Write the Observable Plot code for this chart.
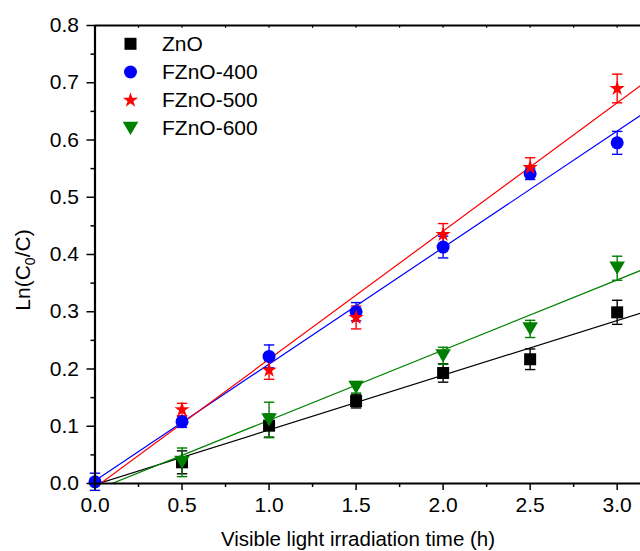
<!DOCTYPE html>
<html><head><meta charset="utf-8">
<script src="https://cdn.jsdelivr.net/npm/d3@7"></script>
<script src="https://cdn.jsdelivr.net/npm/@observablehq/plot@0.6"></script>
<style>
body{margin:0;background:#fff;}
#chart{position:relative;width:640px;height:551px;overflow:hidden;background:#fff;}
</style>
</head><body><div id="chart"></div>
<script>
// ---- data ----
const times = [0, 0.5, 1.0, 1.5, 2.0, 2.5, 3.0];
const seriesNames = ["ZnO", "FZnO-400", "FZnO-500", "FZnO-600"];
const seriesColors = ["#000000", "#0000ff", "#ff0000", "#008000"];
// null = point hidden under the axis in the reference
const valZnO     = [null,  0.037, 0.101, 0.144, 0.193, 0.217, 0.299];
const errZnO     = [null,  0.020, 0.020, 0.012, 0.016, 0.018, 0.021];
const valF400    = [0.003, 0.108, 0.222, 0.300, 0.413, 0.541, 0.595];
const errF400    = [0.015, 0.010, 0.020, 0.016, 0.019, 0.010, 0.020];
const valF500    = [null,  0.129, 0.198, 0.290, 0.435, 0.552, 0.690];
const errF500    = [null,  0.011, 0.016, 0.020, 0.019, 0.017, 0.025];
const valF600    = [null,  0.037, 0.111, 0.168, 0.223, 0.270, 0.376];
const errF600    = [null,  0.025, 0.031, 0.010, 0.015, 0.015, 0.021];
// linear fit lines: values at x = 0 and at right edge
const fitX       = [0, 3.134];
const fitZnO     = [-0.002, 0.2975];
const fitF400    = [0.005, 0.643];
const fitF500    = [-0.007, 0.695];
const fitF600    = [-0.012, 0.372];
// axis ticks
const xMajor = [0, 0.5, 1.0, 1.5, 2.0, 2.5, 3.0];
const xMinor = [0.25, 0.75, 1.25, 1.75, 2.25, 2.75];
const yMajor = [0, 0.1, 0.2, 0.3, 0.4, 0.5, 0.6, 0.7, 0.8];
const yMinor = [0.05, 0.15, 0.25, 0.35, 0.45, 0.55, 0.65, 0.75];

// ---- build tables ----
const vals = [valZnO, valF400, valF500, valF600];
const errs = [errZnO, errF400, errF500, errF600];
const fits = [fitZnO, fitF400, fitF500, fitF600];
const points = [];
seriesNames.forEach((s, i) => times.forEach((t, j) => {
  const v = vals[i][j];
  if (v == null) return;
  points.push({series: s, x: t, y: v, lo: v - errs[i][j], hi: v + errs[i][j]});
}));
const fitRows = [];
seriesNames.forEach((s, i) => fitX.forEach((x, j) => fitRows.push({series: s, x, y: fits[i][j]})));

// ---- symbols ----
const symSquare = {draw(c, size){ const r = Math.sqrt(size/Math.PI); c.rect(-r, -r, 2*r, 2*r); }};
const symCircle = {draw(c, size){ const r = Math.sqrt(size/Math.PI); c.moveTo(r,0); c.arc(0,0,r,0,2*Math.PI); }};
const symStar = d3.symbolStar;
const symTriDown = {draw(c, size){ const r = Math.sqrt(size/Math.PI);
  c.moveTo(-r, -0.85*r); c.lineTo(r, -0.85*r); c.lineTo(0, 0.85*r); c.closePath(); }};
const symbols = [symSquare, symCircle, symStar, symTriDown];
const sizes = [6.0, 6.5, 4.8, 7.8];
const cap = {draw(c, size){ const r = Math.sqrt(size/Math.PI); c.moveTo(-r,0); c.lineTo(r,0); }};

const marks = [];
// fit lines
seriesNames.forEach((s, i) => {
  marks.push(Plot.line(fitRows.filter(d => d.series === s), {x: "x", y: "y", stroke: seriesColors[i], strokeWidth: 1.2, clip: true}));
});
// error bars + points
seriesNames.forEach((s, i) => {
  const data = points.filter(d => d.series === s);
  marks.push(Plot.ruleX(data, {x: "x", y1: "lo", y2: "hi", stroke: seriesColors[i], strokeWidth: 1.4}));
  marks.push(Plot.dot(data, {x: "x", y: "lo", symbol: cap, r: 5.2, stroke: seriesColors[i], strokeWidth: 1.4, fill: "none"}));
  marks.push(Plot.dot(data, {x: "x", y: "hi", symbol: cap, r: 5.2, stroke: seriesColors[i], strokeWidth: 1.4, fill: "none"}));
});
seriesNames.forEach((s, i) => {
  const data = points.filter(d => d.series === s);
  marks.push(Plot.dot(data, {x: "x", y: "y", symbol: symbols[i], r: sizes[i], fill: seriesColors[i], stroke: "none"}));
});
// legend
const legend = seriesNames.map((s, i) => ({s, i}));
legend.forEach(d => {
  marks.push(Plot.dot([d], {frameAnchor: "top-left", dx: 35.5, dy: 18.3 + d.i * 28.2, symbol: symbols[d.i], r: sizes[d.i], fill: seriesColors[d.i], stroke: "none"}));
  marks.push(Plot.text([d], {frameAnchor: "top-left", dx: 67, dy: 18.3 + d.i * 28.2, text: "s", textAnchor: "start", lineAnchor: "middle", fontSize: 21, fill: "black"}));
});
// axes
marks.push(
  Plot.axisX(xMajor, {tickSize: 7, tickPadding: 7, tickFormat: d3.format(".1f"), strokeWidth: 1.5, label: null}),
  Plot.axisX(xMinor, {tickSize: 4, tickFormat: () => "", strokeWidth: 1.5, label: null}),
  Plot.axisY(yMajor, {tickSize: 8, tickPadding: 8, tickFormat: d3.format(".1f"), strokeWidth: 1.5, label: null}),
  Plot.axisY(yMinor, {tickSize: 4, tickFormat: () => "", strokeWidth: 1.5, label: null}),
  Plot.ruleX(xMajor.concat(xMinor), {y1: 0.8, y2: 0.795, stroke: "black", strokeWidth: 1.2}),
  Plot.ruleY([0], {stroke: "black", strokeWidth: 2.2}),
  Plot.ruleY([0.8], {stroke: "black", strokeWidth: 2.2}),
  Plot.ruleX([0], {stroke: "black", strokeWidth: 2.2})
);

const chart = Plot.plot({
  width: 640, height: 551,
  marginLeft: 94.5, marginRight: 0, marginTop: 25, marginBottom: 68,
  style: {fontFamily: "'Liberation Sans', Arial, sans-serif", fontSize: "21px", background: "white", color: "black"},
  x: {domain: [0, 3.134], axis: null},
  y: {domain: [0, 0.8], axis: null},
  marks
});
document.getElementById("chart").appendChild(chart);

const svg = d3.select(chart);
svg.append("text")
  .attr("x", 358).attr("y", 546)
  .attr("text-anchor", "middle")
  .attr("font-size", 20.5).attr("fill", "black")
  .text("Visible light irradiation time (h)");
const yl = svg.append("text")
  .attr("transform", "translate(30,270) rotate(-90)")
  .attr("text-anchor", "middle")
  .attr("font-size", 21).attr("fill", "black");
yl.append("tspan").text("Ln(C");
yl.append("tspan").attr("font-size", 14).attr("dy", 5).text("0");
yl.append("tspan").attr("dy", -5).text("/C)");
</script>
</body></html>
